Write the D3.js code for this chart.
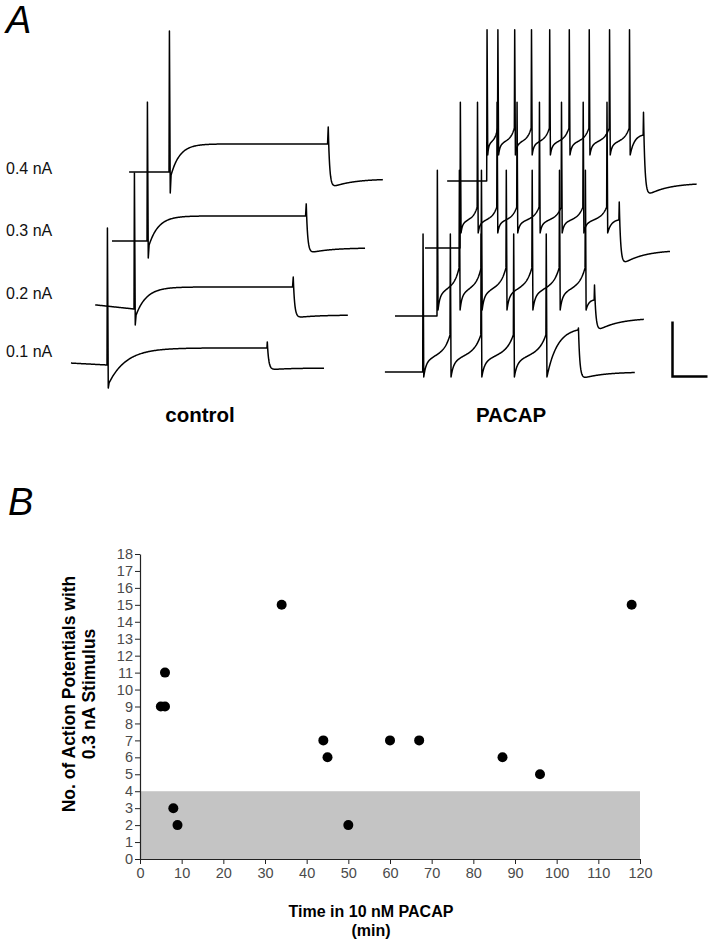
<!DOCTYPE html>
<html><head><meta charset="utf-8">
<script src="https://cdn.jsdelivr.net/npm/d3@7/dist/d3.min.js"></script>
<style>
body{margin:0;background:#fff}
svg{display:block;font-family:"Liberation Sans",Arial,Helvetica,sans-serif}
</style>
</head><body><svg id="c" width="714" height="947"></svg>
<script>
// ===================== DATA =====================
// Panel A : current steps (time in ms from step onset, voltage in mV relative to rest)
const currents = ["0.1 nA", "0.2 nA", "0.3 nA", "0.4 nA"];

// control recordings
const ctrlStart      = [-103, -111, -100, -114];
const ctrlPreLevel   = [0.7, 1.5, 0, 0];
const ctrlOff        = [457, 454, 454, 454];
const ctrlEnd        = [620, 611, 623, 611];
const ctrlPeak       = [49.8, 49.5, 50.5, 51.3];
const ctrlUndershoot = [-8.4, -5.8, -6.2, -7.6];
const ctrlRiseFrom   = [-6.5, -2.2, -1.5, -1.1];
const ctrlPlateau    = [6.2, 8.0, 9.1, 10.2];
const ctrlRiseTau    = [50, 30, 27, 25];
const ctrlOffPeak    = [8.4, 11.6, 13.5, 16.4];
const ctrlAfterMin   = [-1.8, -3.3, -4.7, -6.2];
const ctrlEndLevel   = [-1.1, -2.2, -2.5, -2.5];

// PACAP recordings
const pacStart     = [-108, -120, -100, -113];
const pacOff       = [444, 449, 454, 447];
const pacEnd       = [606, 591, 600, 600];
const pacSpikes    = [
  [0, 78, 166, 259, 352],
  [0, 63, 126, 197, 271, 349, 423],
  [0, 49, 105, 162, 226, 289, 351, 419],
  [0, 31, 79, 127, 179, 235, 292, 350, 407]
];
const pacPeak      = [50.2, 53, 53, 55];
const pacTrough    = [-1.8, 2.2, 5.5, 9.5];
const pacThreshold = [13.5, 17.5, 14.9, 19.3];
const pacOffLevel  = [15.3, 5.8, 10.2, 16.7];
const pacOffPeak   = [16, 11.3, 16.7, 25];
const pacAfterMin  = [-2.9, -6.2, -6.9, -6.2];
const pacEndLevel  = [0, -0.7, -0.7, -0.7];

// scale bar (ms, mV)
const scaleBarMs = 100, scaleBarMv = 20;

// Panel B : number of action potentials vs time in PACAP
const timeMin   = [5, 6, 6, 8, 9, 34, 44, 45, 50, 60, 67, 87, 96, 118];
const apCount   = [9, 9, 11, 3, 2, 15, 7, 6, 2, 7, 7, 6, 5, 15];
const controlRange = [0, 4];
const xTicks = [0, 10, 20, 30, 40, 50, 60, 70, 80, 90, 100, 110, 120];
const yTicks = [0, 1, 2, 3, 4, 5, 6, 7, 8, 9, 10, 11, 12, 13, 14, 15, 16, 17, 18];

// ===================== DRAW =====================
const svg = d3.select("#c");
const FONT = '"Liberation Sans",Arial,Helvetica,sans-serif';

// ---- Panel A ----
const tScale = d3.scaleLinear().domain([0, 100]).range([0, 35]);
const vScale = d3.scaleLinear().domain([0, 20]).range([0, -55]);
const traceLine = d3.line().x(d => tScale(d[0])).y(d => vScale(d[1]));

const ctrlOrigin = [[107, 365], [134, 309], [147, 241], [169, 172]];
const pacOrigin  = [[422.7, 372], [437, 316], [460, 248], [486.7, 181]];

function addOffResponse(p, off, end, offPeak, afterMin, endLevel) {
  p.push([off + 1, offPeak]);
  for (let dt = 2; dt <= end - off; dt += 1) {
    const v = afterMin + (offPeak - afterMin) * Math.exp(-(dt - 1) / 4)
            + (endLevel - afterMin) * (1 - Math.exp(-dt / 60));
    p.push([off + dt, v]);
  }
}

function controlPoints(i) {
  const p = [];
  const s = ctrlStart[i];
  for (let t = s; t < 0; t += 2) p.push([t, ctrlPreLevel[i] * (t / s)]);
  p.push([0, 0], [1.2, ctrlPeak[i]], [3.6, ctrlUndershoot[i]], [6, ctrlRiseFrom[i]]);
  for (let t = 7; t <= ctrlOff[i]; t += 2) {
    p.push([t, ctrlPlateau[i] + (ctrlRiseFrom[i] - ctrlPlateau[i]) * Math.exp(-(t - 6) / ctrlRiseTau[i])]);
  }
  addOffResponse(p, ctrlOff[i], ctrlEnd[i], ctrlOffPeak[i], ctrlAfterMin[i], ctrlEndLevel[i]);
  return p;
}

function rampShape(s) {
  return 0.35 * (1 - Math.exp(-12 * s)) + 0.35 * s + 0.3 * Math.pow(s, 6);
}
function lastShape(s) {
  return (1 - Math.exp(-3 * s)) / (1 - Math.exp(-3));
}

function pacapPoints(i) {
  const p = [];
  for (let t = pacStart[i]; t < 0; t += 2) p.push([t, 0]);
  const sp = pacSpikes[i];
  let before = 0;
  sp.forEach((ts, k) => {
    p.push([ts, before], [ts + 1, pacPeak[i]], [ts + 3, pacTrough[i]]);
    const last = k === sp.length - 1;
    const next = last ? pacOff[i] : sp[k + 1];
    const target = last ? pacOffLevel[i] : pacThreshold[i];
    const t0 = ts + 3;
    for (let t = t0 + 1; t < next; t += 1) {
      const s = (t - t0) / (next - t0);
      const f = last ? lastShape(s) : rampShape(s);
      p.push([t, pacTrough[i] + (target - pacTrough[i]) * f]);
    }
    p.push([next, target]);
    before = target;
  });
  addOffResponse(p, pacOff[i], pacEnd[i], pacOffPeak[i], pacAfterMin[i], pacEndLevel[i]);
  return p;
}

const gA = svg.append("g");
currents.forEach((c, i) => {
  gA.append("g").attr("transform", `translate(${ctrlOrigin[i][0]},${ctrlOrigin[i][1]})`)
    .append("path").attr("d", traceLine(controlPoints(i)))
    .attr("fill", "none").attr("stroke", "#000").attr("stroke-width", 1.5)
    .attr("stroke-linejoin", "round");
  gA.append("g").attr("transform", `translate(${pacOrigin[i][0]},${pacOrigin[i][1]})`)
    .append("path").attr("d", traceLine(pacapPoints(i)))
    .attr("fill", "none").attr("stroke", "#000").attr("stroke-width", 1.5)
    .attr("stroke-linejoin", "round");
});

// current labels
const labelBase = [357, 299, 236, 174];
currents.forEach((c, i) => {
  gA.append("text").attr("x", 6).attr("y", labelBase[i]).text(c)
    .attr("font-size", 16).attr("fill", "#111").attr("font-family", FONT);
});

// condition labels
gA.append("text").attr("x", 200).attr("y", 421.5).attr("text-anchor", "middle")
  .attr("font-size", 20.5).attr("font-weight", "bold").attr("font-family", FONT).text("control");
gA.append("text").attr("x", 511).attr("y", 421.5).attr("text-anchor", "middle")
  .attr("font-size", 20.5).attr("font-weight", "bold").attr("font-family", FONT).text("PACAP");

// scale bar
const sb = gA.append("g").attr("transform", "translate(672.5,376.5)");
sb.append("path")
  .attr("d", traceLine([[0, scaleBarMv], [0, 0], [scaleBarMs, 0]]))
  .attr("fill", "none").attr("stroke", "#000").attr("stroke-width", 2.5);

// panel letters
svg.append("text").attr("x", 6).attr("y", 33).attr("font-size", 38).attr("font-style", "italic")
  .attr("font-family", FONT).text("A");
svg.append("text").attr("x", 8).attr("y", 515).attr("font-size", 38).attr("font-style", "italic")
  .attr("font-family", FONT).text("B");

// ---- Panel B ----
const x = d3.scaleLinear().domain([0, 120]).range([140, 640]);
const y = d3.scaleLinear().domain([0, 18]).range([859, 554]);

svg.append("rect")
  .attr("x", x(0) + 1).attr("y", y(controlRange[1]))
  .attr("width", x(120) - x(0) - 1).attr("height", y(controlRange[0]) - y(controlRange[1]))
  .attr("fill", "#c4c4c4");

const gy = svg.append("g").attr("transform", `translate(${x(0)},0)`)
  .call(d3.axisLeft(y).tickValues(yTicks).tickSize(5).tickSizeOuter(0).tickPadding(2));
const gx = svg.append("g").attr("transform", `translate(0,${y(0)})`)
  .call(d3.axisBottom(x).tickValues(xTicks).tickSize(5).tickSizeOuter(0).tickPadding(4));
[gx, gy].forEach(g => {
  g.attr("font-family", FONT).attr("font-size", 14.5);
  g.selectAll("text").attr("fill", "#4a4a4a");
  g.selectAll("line").attr("stroke", "#222");
  g.select(".domain").attr("stroke", "#222").attr("stroke-width", 1.2);
});

svg.append("g").selectAll("circle").data(timeMin).join("circle")
  .attr("cx", (d) => x(d)).attr("cy", (d, i) => y(apCount[i])).attr("r", 5).attr("fill", "#000");

// axis titles
const yt = svg.append("g").attr("font-family", FONT).attr("font-weight", "bold").attr("font-size", 17.5)
  .attr("text-anchor", "middle");
yt.append("text").attr("transform", "translate(74.5,694) rotate(-90)").text("No. of Action Potentials with");
yt.append("text").attr("transform", "translate(94.5,694) rotate(-90)").text("0.3 nA Stimulus");

const xt = svg.append("g").attr("font-family", FONT).attr("font-weight", "bold").attr("font-size", 16)
  .attr("text-anchor", "middle");
xt.append("text").attr("x", 371).attr("y", 917).text("Time in 10 nM PACAP");
xt.append("text").attr("x", 371).attr("y", 936).text("(min)");
</script></body></html>
